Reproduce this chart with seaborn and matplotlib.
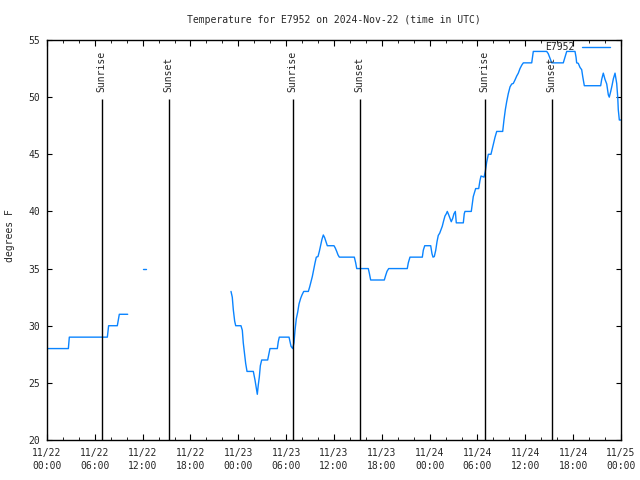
import matplotlib
matplotlib.use('Agg')
import numpy as np
import pandas as pd
import matplotlib.pyplot as plt
import matplotlib.dates as mdates
import seaborn as sns

nan = np.nan

# hours since 2024-11-22 00:00 UTC; NaN marks a gap in the record
hours = [0.0, 2.68, 2.8, 7.57, 7.73, 8.82, 9.07, 10.12, nan,
         12.08, 12.42, nan,
         23.08, 23.24, 23.37, 23.54, 23.67, 24.33, 24.50, 24.62, 24.75, 24.92,
         25.09, 25.88, 26.09, 26.22, 26.38, 26.50, 26.63, 26.76, 26.93, 27.68,
         27.85, 27.97, 28.89, 29.01, 29.14, 30.36, 30.48, 30.61, 30.82, 30.98,
         31.11, 31.27, 31.45, 31.61, 31.82, 31.99, 32.20, 32.78, 32.95, 33.12,
         33.28, 33.45, 33.62, 33.78, 33.99, 34.16, 34.33, 34.49, 34.66, 34.83,
         35.00, 35.16, 36.00, 36.16, 36.34, 36.50, 36.67, 38.55, 38.72, 38.85,
         40.30, 40.43, 40.60, 42.31, 42.48, 42.65, 42.86, 45.19, 45.32, 45.53,
         47.08, 47.20, 47.38, 48.13, 48.29, 48.42, 48.58, 48.76, 48.92, 49.08,
         49.26, 49.42, 49.58, 49.76, 49.92, 50.09, 50.21, 50.39, 50.55, 50.71,
         50.89, 51.05, 51.22, 51.34, 52.22, 52.34, 52.43, 53.22, 53.35, 53.47,
         53.60, 53.77, 54.15, 54.31, 54.44, 54.82, 54.98, 55.15, 55.36, 55.69,
         55.86, 56.03, 56.20, 56.41, 57.16, 57.32, 57.49, 57.66, 57.86, 58.08,
         58.29, 58.49, 58.70, 58.92, 59.12, 59.33, 59.55, 59.75, 60.80, 61.00,
         62.68, 62.88, 63.09, 63.31, 64.76, 64.98, 65.19, 66.23, 66.36, 66.44,
         66.64, 66.86, 67.07, 67.20, 67.40, 69.45, 69.58, 69.78, 69.99, 70.21,
         70.41, 70.53, 70.71, 70.87, 71.04, 71.25, 71.46, 71.59, 71.66, 71.79,
         71.95]
temps = [28, 28, 29, 29, 30, 30, 31, 31, nan,
         35, 35, nan,
         33, 32.5, 31.4, 30.4, 30, 30, 29.6, 28.5, 27.7, 26.7,
         26, 26, 25.25, 24.7, 24, 24.8, 25.5, 26.5, 27, 27,
         27.6, 28, 28, 28.6, 29, 29, 28.6, 28.2, 28, 28.5,
         29.6, 30.6, 31.2, 31.9, 32.4, 32.7, 33, 33, 33.4, 33.85,
         34.3, 34.9, 35.5, 36, 36.05, 36.5, 37.06, 37.56, 37.94, 37.7,
         37.35, 37, 37, 36.8, 36.5, 36.2, 36, 36, 35.5, 35,
         35, 34.6, 34, 34, 34.4, 34.76, 35, 35, 35.5, 36,
         36, 36.6, 37, 37, 36.3, 36, 36.05, 36.6, 37.35, 37.9,
         38.1, 38.4, 38.7, 39.2, 39.6, 39.8, 40, 39.7, 39.4, 39.1,
         39.4, 39.8, 40, 39, 39, 39.8, 40, 40, 40.7, 41.3,
         41.6, 42, 42, 42.7, 43.1, 43, 43.5, 44.3, 45, 45,
         45.5, 46, 46.5, 47, 47, 48, 48.9, 49.6, 50.3, 50.9,
         51.15, 51.2, 51.5, 51.85, 52.1, 52.5, 52.8, 53, 53, 54,
         54, 53.8, 53.4, 53, 53, 53.5, 54, 54, 53.5, 53,
         52.96, 52.6, 52.4, 51.8, 51, 51, 51.56, 52.1, 51.56, 51.15,
         50.2, 50, 50.5, 51, 51.6, 52.1, 51.2, 50, 48.9, 48,
         48]

sun_hours = [6.85, 15.26, 30.82, 39.22, 54.91, 63.31]
sun_labels = ['Sunrise', 'Sunset', 'Sunrise', 'Sunset', 'Sunrise', 'Sunset']

start = pd.Timestamp('2024-11-22 00:00')
df = pd.DataFrame({'hours': hours, 'temp': temps})
df['segment'] = df['hours'].isna().cumsum()
df = df.dropna()
df['time'] = start + pd.to_timedelta(df['hours'], unit='h')

sns.set_style('ticks')
plt.rcParams['font.family'] = ['DejaVu Sans Mono']
plt.rcParams['font.size'] = 7

fig = plt.figure(figsize=(6.4, 4.8), dpi=100)
ax = fig.add_axes([47 / 640, 40 / 480, 574 / 640, 400 / 480])

line_color = '#0a84ff'
sns.lineplot(data=df, x='time', y='temp', units='segment', estimator=None,
             color=line_color, linewidth=1.0, ax=ax, legend=False)

sun_times = [start + pd.Timedelta(hours=h) for h in sun_hours]
ax.vlines(sun_times, 20, 49.8, color='black', linewidth=1.0)
for t, lab in zip(sun_times, sun_labels):
    ax.text(t, 50.45, lab, rotation=90, ha='center', va='bottom', fontsize=7)

ax.set_xlim(start, start + pd.Timedelta(hours=72))
ax.set_ylim(20, 55)
ax.set_yticks([20, 25, 30, 35, 40, 45, 50, 55])
ax.xaxis.set_major_locator(mdates.HourLocator(byhour=[0, 6, 12, 18]))
ax.xaxis.set_minor_locator(mdates.HourLocator(interval=2))
ax.xaxis.set_major_formatter(mdates.DateFormatter('%m/%d\n%H:%M'))
for lab in ax.get_xticklabels():
    lab.set_linespacing(1.35)

ax.tick_params(which='both', direction='in', top=True, right=True,
               color='black', labelsize=7)
ax.tick_params(axis='x', which='major', length=4, pad=6)
ax.tick_params(axis='x', which='minor', length=2)
ax.tick_params(axis='y', which='major', length=3.5, pad=5)
for sp in ax.spines.values():
    sp.set_visible(True)
    sp.set_color('black')
    sp.set_linewidth(1.0)

ax.set_xlabel('')
ax.set_ylabel('')
fig.text(10 / 640, 0.51, 'degrees F', rotation=90, ha='center', va='center',
         fontsize=7)
fig.text(334 / 640, 1 - 20 / 480, 'Temperature for E7952 on 2024-Nov-22 (time in UTC)',
         ha='center', va='center', fontsize=7)

handle = plt.Line2D([], [], color=line_color, linewidth=1.0)
ax.legend([handle], ['E7952'], loc='upper right', frameon=False,
          markerfirst=False, borderaxespad=0, borderpad=0,
          bbox_to_anchor=((610 - 47) / 574, (440 - 42) / 400),
          handlelength=2.9, handletextpad=0.7, fontsize=7)

fig.savefig('out.png', dpi=100)
plt.close(fig)
